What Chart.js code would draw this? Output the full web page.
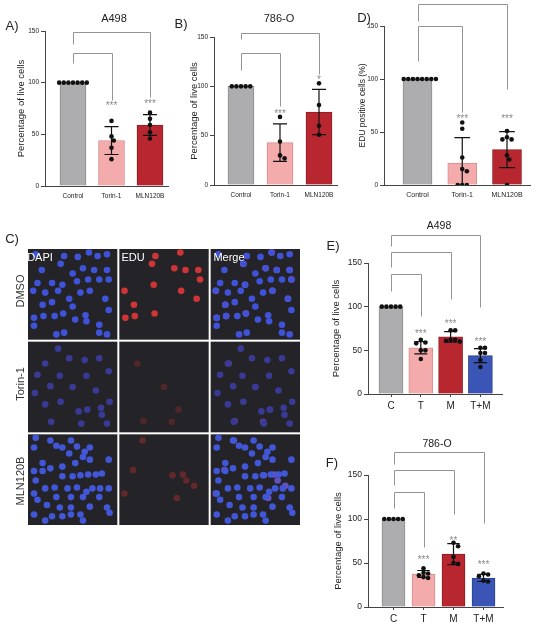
<!DOCTYPE html>
<html>
<head>
<meta charset="utf-8">
<script src="https://cdn.jsdelivr.net/npm/chart.js@4.4.0/dist/chart.umd.min.js"></script>
<style>
   body { margin: 0; background: #fff; font-family: 'Liberation Sans', Arial, sans-serif; }
   #fig { position: relative; width: 550px; height: 630px; overflow: hidden; }
   canvas { position: absolute; }
   .t { position: absolute; white-space: nowrap; line-height: 1; color: #222; transform: translate(-50%, -50%); }
   .r { transform: translate(-50%, -50%) rotate(-90deg); font-size: 11px; color: #333; }
   .ch { color: #fff; font-size: 11px; }
   .lt { font-size: 13px; }
</style>
</head>
<body>
<div id="fig">
   <canvas id="cA"></canvas>
   <canvas id="cB"></canvas>
   <canvas id="cD"></canvas>
   <canvas id="cC"></canvas>
   <canvas id="cE"></canvas>
   <canvas id="cF"></canvas>

   <div class="t lt" style="left:12px;top:25px">A)</div>
   <div class="t lt" style="left:181px;top:23px">B)</div>
   <div class="t lt" style="left:12px;top:238px">C)</div>
   <div class="t lt" style="left:364px;top:17px">D)</div>
   <div class="t lt" style="left:333px;top:245px">E)</div>
   <div class="t lt" style="left:332px;top:462px">F)</div>

   <div class="t" style="left:114px;top:18px;font-size:11px">A498</div>
   <div class="t" style="left:279px;top:18px;font-size:11px">786-O</div>
   <div class="t" style="left:439px;top:225px;font-size:10.5px">A498</div>
   <div class="t" style="left:437px;top:443px;font-size:10.5px">786-O</div>

   <div class="t ch" style="left:40px;top:257px">DAPI</div>
   <div class="t ch" style="left:133px;top:257px">EDU</div>
   <div class="t ch" style="left:229px;top:257px">Merge</div>
   <div class="t r" style="left:20px;top:291px">DMSO</div>
   <div class="t r" style="left:20px;top:384px">Torin-1</div>
   <div class="t r" style="left:20px;top:481px">MLN120B</div>
</div>
<script>
Chart.defaults.font.family = "'Liberation Sans', Arial, sans-serif"
Chart.defaults.color = '#222'

// categories
const drugCats = ['Control', 'Torin-1', 'MLN120B']
const comboCats = ['C', 'T', 'M', 'T+M']

// A) A498 viability
const aMeans = [100, 44, 59]
const aSd = [0, 13.5, 10]
const aDots = [[100, 100, 100, 100, 100, 100, 100], [63, 48, 44, 37, 26], [71, 65, 59, 52, 46]]
const aStars = ['', '***', '***']
const aStarY = [0, 80, 82]
const aBrkTo = [1, 2]
const aBrkY = [129, 149]
const aBrkFrom = [119, 137]
const aBrkEnd = [83, 86]

// B) 786-O viability
const bMeans = [100, 43, 74]
const bSd = [0, 19, 23]
const bDots = [[100, 100, 100, 100, 100], [69, 44, 30, 27], [103, 81, 60, 51]]
const bStars = ['', '***', '*']
const bStarY = [0, 74, 109]
const bBrkTo = [1, 2]
const bBrkY = [134, 154]
const bBrkFrom = [117, 148]
const bBrkEnd = [80, 112]

// D) EDU positive cells
const dMeans = [100, 20.75, 33.4]
const dSd = [0, 24, 17]
const dDots = [[100, 100, 100, 100, 100, 100, 100, 100], [59, 53, 26, 15, 13, 0, 0, 0], [51, 45, 43, 43, 28, 24, 0]]
const dStars = ['', '***', '***']
const dStarY = [0, 65, 65]
const dBrkTo = [1, 2]
const dBrkY = [150, 171]
const dBrkFrom = [117, 155]
const dBrkEnd = [69, 91]

// E) A498 combination
const eMeans = [100, 53, 65.5, 44]
const eSd = [0, 7, 6, 8]
const eDots = [[100, 100, 100, 100, 100], [62, 59, 58, 50, 50, 40], [73, 73, 62, 62, 61, 60], [53, 53, 47, 47, 39, 31]]
const eStars = ['', '***', '***', '***']
const eStarY = [0, 71, 83, 62]
const eBrkTo = [1, 2, 3]
const eBrkY = [137, 163, 182]
const eBrkFrom = [118, 145, 169]
const eBrkEnd = [89, 109, 100]

// F) 786-O combination
const fMeans = [100, 37.5, 60, 33]
const fSd = [0, 4, 12, 4]
const fDots = [[100, 100, 100, 100, 100], [44, 39, 38, 36, 34, 33], [73, 69, 57, 50, 49], [38, 37, 35, 30, 29]]
const fStars = ['', '***', '**', '***']
const fStarY = [0, 56, 78, 51]
const fBrkTo = [1, 2, 3]
const fBrkY = [131, 156, 176]
const fBrkFrom = [112, 139, 162]
const fBrkEnd = [68, 106, 95]

// C) nuclei positions inside each tile (0-100 of tile width/height)
const dmsoDapi = [[7, 4], [40, 6], [56, 7], [79, 6], [90, 4], [69, 2], [36, 15], [14, 22], [50, 26], [62, 20], [75, 22], [90, 22],
   [9, 37], [26, 37], [38, 39], [55, 35], [68, 33], [81, 33], [92, 33], [4, 46], [18, 48], [33, 46], [46, 55], [59, 48],
   [70, 46], [88, 55], [15, 62], [26, 59], [39, 72], [50, 64], [65, 74], [92, 68], [5, 77], [16, 75], [29, 75], [53, 79],
   [66, 81], [81, 85], [5, 86], [31, 96], [40, 94], [81, 94], [90, 96]]
const dmsoEdu = [[40, 6], [69, 2], [36, 15], [62, 20], [75, 22], [90, 22], [92, 33], [4, 46], [38, 39], [70, 46], [88, 55],
   [15, 62], [39, 72], [5, 77], [16, 75]]
const torinDapi = [[33, 6], [46, 17], [64, 19], [81, 17], [18, 23], [9, 36], [35, 37], [50, 50], [66, 37], [92, 32], [24, 49],
   [77, 54], [6, 57], [36, 67], [18, 70], [57, 78], [67, 76], [83, 74], [93, 67], [25, 90], [84, 82], [60, 92], [90, 92]]
const torinEdu = [[19, 23], [50, 50], [67, 76], [26, 89], [59, 90]]
const mlnDapi = [[7, 2], [24, 5], [31, 11], [38, 13], [48, 5], [55, 12], [64, 18], [70, 13], [5, 13], [46, 20], [70, 27],
   [92, 27], [15, 31], [24, 37], [38, 35], [53, 31], [62, 24], [5, 40], [15, 40], [38, 46], [50, 46], [59, 45], [68, 44],
   [77, 44], [84, 43], [7, 51], [18, 60], [29, 59], [44, 60], [55, 59], [66, 64], [73, 60], [82, 60], [92, 60], [5, 66],
   [9, 73], [31, 70], [48, 70], [62, 70], [81, 70], [20, 79], [35, 82], [48, 82], [70, 81], [90, 82], [5, 90], [26, 92],
   [38, 92], [48, 90], [59, 90], [93, 88], [18, 97], [62, 97]]
const mlnEdu = [[25, 5], [14, 39], [4, 66], [60, 45], [76, 51], [85, 57], [65, 71], [72, 44]]

const fills = ['#adadaf', '#f4abab', '#b8272f', '#3a55b5']
const edges = ['#8c8c8e', '#d88e8f', '#8f1c23', '#2b408c']

// spread equal values sideways, like a prism scatter
const swarm = (vals, pxX, pxY, d) => {
   const placed = []
   return vals.map(v => {
      for (let k = 0; k < 40; k++) {
         const off = (k % 2 ? 1 : -1) * Math.ceil(k / 2) * d / 2
         const free = placed.every(p => (p[0] - off) ** 2 + ((p[1] - v) * pxY) ** 2 >= d * d * 0.9)
         if (free) {
            placed.push([off, v])
            return off / pxX
         }
      }
      return 0
   })
}

const errorBars = {
   id: 'errorBars',
   afterDatasetsDraw(chart) {
      const { ctx, scales: { y } } = chart
      const ds = chart.data.datasets[0]
      const meta = chart.getDatasetMeta(0)
      ctx.save()
      ctx.strokeStyle = '#111'
      ctx.lineWidth = 1.2
      meta.data.forEach((bar, i) => {
         const sd = ds.errors[i]
         if (!sd) return
         const m = ds.data[i].y
         const hi = y.getPixelForValue(m + sd)
         const lo = y.getPixelForValue(Math.max(0, m - sd))
         const cap = bar.width * 0.27
         ctx.beginPath()
         ctx.moveTo(bar.x, hi); ctx.lineTo(bar.x, lo)
         ctx.moveTo(bar.x - cap, hi); ctx.lineTo(bar.x + cap, hi)
         if (m - sd > 0) { ctx.moveTo(bar.x - cap, lo); ctx.lineTo(bar.x + cap, lo) }
         ctx.stroke()
      })
      ctx.restore()
   }
}

// comparison brackets and significance stars
const sigMarks = {
   id: 'sigMarks',
   afterDraw(chart) {
      const { ctx, scales: { x, y } } = chart
      const o = chart.data.datasets[0].sig
      const px = v => Math.round(x.getPixelForValue(v)) + 0.5
      const py = v => Math.round(y.getPixelForValue(v)) + 0.5
      ctx.save()
      ctx.strokeStyle = '#949494'
      ctx.lineWidth = 1
      o.to.forEach((t, k) => {
         ctx.beginPath()
         ctx.moveTo(px(0), py(o.from[k]))
         ctx.lineTo(px(0), py(o.level[k]))
         ctx.lineTo(px(t), py(o.level[k]))
         ctx.lineTo(px(t), py(o.end[k]))
         ctx.stroke()
      })
      ctx.fillStyle = '#8a8a8a'
      ctx.font = "10px 'Liberation Sans', Arial"
      ctx.textAlign = 'center'
      o.stars.forEach((s, i) => {
         if (s) ctx.fillText(s, x.getPixelForValue(i), y.getPixelForValue(o.starY[i]) + 5.5)
      })
      ctx.restore()
   }
}

const makePanel = p => {
   const [left, top, w, h] = p.box
   const n = p.cats.length
   const xMin = -(p.first - p.axisX) / p.step
   const xMax = n - 1 + (p.xEnd - p.first - (n - 1) * p.step) / p.step
   const pxY = (p.y0 - p.yTop) / 150
   const dots = []
   p.dots.forEach((vals, i) => {
      swarm(vals, p.step, pxY, 4.6).forEach((off, k) => dots.push({ x: i + off, y: vals[k] }))
   })
   const cv = document.getElementById(p.id)
   cv.width = w
   cv.height = h
   cv.style.left = left + 'px'
   cv.style.top = top + 'px'
   new Chart(cv, {
      type: 'bar',
      data: {
         datasets: [{
            type: 'bar',
            data: p.means.map((v, i) => ({ x: i, y: v })),
            errors: p.sd,
            sig: p.sig,
            backgroundColor: fills,
            borderColor: edges,
            borderWidth: 1,
            barThickness: p.bar,
            order: 2
         }, {
            type: 'scatter',
            data: dots,
            pointRadius: 2.3,
            pointBackgroundColor: '#111',
            pointBorderWidth: 0,
            order: 1
         }]
      },
      options: {
         responsive: false,
         animation: false,
         events: [],
         layout: { padding: { left: 0, right: left + w - p.xEnd, top: p.yTop - top, bottom: 0 } },
         scales: {
            x: {
               type: 'linear', min: xMin, max: xMax, offset: false,
               afterBuildTicks: s => { s.ticks = p.cats.map((c, i) => ({ value: i })) },
               afterFit: s => { s.height = top + h - p.y0 },
               ticks: { callback: v => p.cats[v], font: { size: p.xfont }, color: '#222', padding: 3, maxRotation: 0, autoSkip: false },
               grid: { display: p.xticks, offset: false, drawOnChartArea: false, tickLength: 3, color: '#444' },
               border: { color: '#444', width: 1 }
            },
            y: {
               min: 0, max: 150,
               afterFit: s => { s.width = p.axisX - left },
               ticks: { stepSize: 50, font: { size: p.tick }, color: '#222', padding: 2 },
               grid: { drawOnChartArea: false, tickLength: 4, color: '#444' },
               border: { color: '#444', width: 1 },
               title: { display: true, text: p.ytitle, font: { size: p.tfont }, color: '#222', padding: { top: p.tpad, bottom: 0 } }
            }
         },
         plugins: { legend: { display: false }, tooltip: { enabled: false } }
      },
      plugins: [errorBars, sigMarks]
   })
}

const live = 'Percentage of live cells'
makePanel({ id: 'cA', box: [0, 0, 180, 205], axisX: 45, yTop: 31, y0: 186, xEnd: 168, first: 73, step: 38.5, bar: 26,
   tick: 6.5, xfont: 6.5, tfont: 9.5, tpad: 16, xticks: false, ytitle: live,
   cats: drugCats, means: aMeans, sd: aSd, dots: aDots,
   sig: { stars: aStars, starY: aStarY, to: aBrkTo, level: aBrkY, from: aBrkFrom, end: aBrkEnd } })
makePanel({ id: 'cB', box: [170, 0, 175, 205], axisX: 214, yTop: 37, y0: 185, xEnd: 337, first: 241, step: 39, bar: 26,
   tick: 6.5, xfont: 6.5, tfont: 9.5, tpad: 19, xticks: false, ytitle: live,
   cats: drugCats, means: bMeans, sd: bSd, dots: bDots,
   sig: { stars: bStars, starY: bStarY, to: bBrkTo, level: bBrkY, from: bBrkFrom, end: bBrkEnd } })
makePanel({ id: 'cD', box: [340, 0, 210, 205], axisX: 384, yTop: 26, y0: 185, xEnd: 530, first: 417.5, step: 44.75, bar: 29,
   tick: 6.5, xfont: 7, tfont: 8.5, tpad: 18, xticks: false, ytitle: 'EDU positive cells (%)',
   cats: drugCats, means: dMeans, sd: dSd, dots: dDots,
   sig: { stars: dStars, starY: dStarY, to: dBrkTo, level: dBrkY, from: dBrkFrom, end: dBrkEnd } })
makePanel({ id: 'cE', box: [300, 215, 250, 205], axisX: 368, yTop: 263, y0: 394, xEnd: 502, first: 391, step: 29.8, bar: 24,
   tick: 8.5, xfont: 10, tfont: 9.5, tpad: 31, xticks: true, ytitle: live,
   cats: comboCats, means: eMeans, sd: eSd, dots: eDots,
   sig: { stars: eStars, starY: eStarY, to: eBrkTo, level: eBrkY, from: eBrkFrom, end: eBrkEnd } })
makePanel({ id: 'cF', box: [300, 430, 250, 200], axisX: 368, yTop: 475, y0: 607, xEnd: 503, first: 393.5, step: 30, bar: 23,
   tick: 8.5, xfont: 10, tfont: 9.5, tpad: 33, xticks: true, ytitle: live,
   cats: comboCats, means: fMeans, sd: fSd, dots: fDots,
   sig: { stars: fStars, starY: fStarY, to: fBrkTo, level: fBrkY, from: fBrkFrom, end: fBrkEnd } })

// C) microscopy grid as a scatter of nuclei over dark tiles
const cellRows = ['DMSO', 'Torin-1', 'MLN120B']
const channels = ['DAPI', 'EDU', 'Merge']
const dapiSets = [dmsoDapi, torinDapi, mlnDapi]
const eduSets = [dmsoEdu, torinEdu, mlnEdu]
const dapiTone = ['#3f53d9', '#393a96', '#4157d8']
const eduTone = ['#cf3535', '#502729', '#612929']
const mergeTone = ['#b24ec6', '#5c3a8c', '#6550c0']

const place = (pts, c, r) => pts.map(p => ({ x: c + 0.03 + p[0] * 0.0094, y: r + 0.03 + p[1] * 0.0094 }))
const nucleus = (data, color) => ({ data, pointRadius: 3.3, pointBackgroundColor: color, pointBorderWidth: 0 })

const cellSets = []
cellRows.forEach((row, r) => {
   cellSets.push(nucleus(place(dapiSets[r], 0, r), dapiTone[r]))
   cellSets.push(nucleus(place(eduSets[r], 1, r), eduTone[r]))
   cellSets.push(nucleus(place(dapiSets[r], 2, r), dapiTone[r]))
   cellSets.push(nucleus(place(eduSets[r], 2, r), mergeTone[r]))
})

const tiles = {
   id: 'tiles',
   beforeDatasetsDraw(chart) {
      const { ctx, scales: { x, y } } = chart
      ctx.save()
      ctx.fillStyle = '#232328'
      cellRows.forEach((row, r) => channels.forEach((ch, c) => {
         const x0 = x.getPixelForValue(c) + 1, x1 = x.getPixelForValue(c + 1) - 1
         const y0 = y.getPixelForValue(r) + 1, y1 = y.getPixelForValue(r + 1) - 1
         ctx.fillRect(x0, y0, x1 - x0, y1 - y0)
      }))
      ctx.restore()
   }
}

const cc = document.getElementById('cC')
cc.width = 305
cc.height = 300
cc.style.left = '0px'
cc.style.top = '230px'
new Chart(cc, {
   type: 'scatter',
   data: { datasets: cellSets },
   options: {
      responsive: false,
      animation: false,
      events: [],
      layout: { padding: { left: 27, top: 18, right: 3, bottom: 4 } },
      scales: {
         x: { type: 'linear', min: 0, max: 3, display: false },
         y: { type: 'linear', min: 0, max: 3, reverse: true, display: false }
      },
      plugins: { legend: { display: false }, tooltip: { enabled: false } }
   },
   plugins: [tiles]
})
</script>
</body>
</html>
